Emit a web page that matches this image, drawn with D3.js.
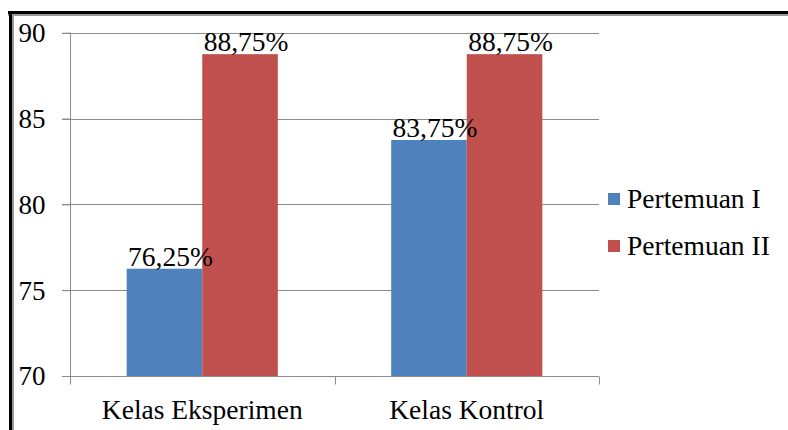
<!DOCTYPE html>
<html><head><meta charset="utf-8">
<script src="https://cdn.jsdelivr.net/npm/d3@7"></script>
<style>body{margin:0;background:#fff;}svg{display:block;} svg text{font-family:"Liberation Serif","Times New Roman",serif;}</style>
</head><body>
<svg id="c" width="788" height="430"></svg>
<script>
const categories = ["Kelas Eksperimen", "Kelas Kontrol"];
const seriesNames = ["Pertemuan I", "Pertemuan II"];
const pertemuanI = [76.25, 83.75];
const pertemuanII = [88.75, 88.75];
const valueLabelsI = ["76,25%", "83,75%"];
const valueLabelsII = ["88,75%", "88,75%"];
const yTicks = [70, 75, 80, 85, 90];
const colors = ["#4F81BD", "#C0504D"];

const svg = d3.select("#c");

// frame
svg.append("line").attr("x1",8).attr("x2",788).attr("y1",15).attr("y2",15).attr("stroke","#999").attr("stroke-width",2);
svg.append("line").attr("x1",13).attr("x2",13).attr("y1",11).attr("y2",430).attr("stroke","#999").attr("stroke-width",2);
svg.append("line").attr("x1",8).attr("x2",788).attr("y1",12.5).attr("y2",12.5).attr("stroke","#000").attr("stroke-width",3);
svg.append("line").attr("x1",10.5).attr("x2",10.5).attr("y1",11).attr("y2",430).attr("stroke","#000").attr("stroke-width",3);

const L = 70, R = 599, T = 32.7, B = 376;
const y = d3.scaleLinear().domain([70, 90]).range([B, T]);
const x0 = d3.scaleBand().domain(categories).range([L, R]).padding(0);
const x1 = d3.scaleBand().domain(seriesNames).range([0, x0.bandwidth()]).paddingInner(0).paddingOuter(0.75);

// gridlines
svg.append("g").selectAll("line").data(yTicks.filter(t => t > 70)).join("line")
  .attr("x1", L - 8).attr("x2", R).attr("y1", d => Math.round(y(d)) + 0.5).attr("y2", d => Math.round(y(d)) + 0.5)
  .attr("stroke", "#8c8c8c").attr("stroke-width", 1);

const data = categories.map((c, i) => ({c, vals: [pertemuanI[i], pertemuanII[i]], labs: [valueLabelsI[i], valueLabelsII[i]]}));

const g = svg.append("g").selectAll("g").data(data).join("g").attr("transform", d => `translate(${x0(d.c)},0)`);
g.selectAll("rect").data(d => d.vals.map((v, j) => ({v, s: seriesNames[j], j}))).join("rect")
  .attr("x", d => x1(d.s)).attr("width", x1.bandwidth())
  .attr("y", d => y(d.v)).attr("height", d => y(70) - y(d.v))
  .attr("fill", d => colors[d.j]);
g.selectAll("text").data(d => d.labs.map((l, j) => ({l, v: d.vals[j], s: seriesNames[j]}))).join("text")
  .attr("x", d => x1(d.s) + x1.bandwidth() / 2 + 6).attr("y", d => y(d.v) - 3)
  .attr("text-anchor", "middle").attr("font-size", 27.5).attr("fill", "#000")
  .text(d => d.l);

// y axis
const yAxis = svg.append("g").attr("transform", `translate(${L + 0.5},0)`)
  .call(d3.axisLeft(y).tickValues(yTicks).tickSize(8).tickPadding(17).tickFormat(d3.format("d")));
yAxis.attr("font-family", null);
yAxis.select(".domain").attr("stroke", "#8c8c8c").attr("d", `M0,${T}V${B}`);
yAxis.selectAll(".tick line").attr("stroke", "#8c8c8c");
yAxis.selectAll(".tick text").attr("font-size", 27).attr("fill", "#000").attr("dy", "0.33em");

// x axis
const xAxis = svg.append("g").attr("transform", `translate(0,${Math.round(B) + 0.5})`);
xAxis.append("line").attr("x1", L - 8).attr("x2", R).attr("y1", 0).attr("y2", 0).attr("stroke", "#8c8c8c");
xAxis.selectAll("line.t").data([L, x0(categories[1]), R]).join("line").attr("class","t")
  .attr("x1", d => Math.round(d) + 0.5).attr("x2", d => Math.round(d) + 0.5).attr("y1", 0).attr("y2", 8).attr("stroke", "#8c8c8c");
xAxis.selectAll("text").data(categories).join("text")
  .attr("x", d => x0(d) + x0.bandwidth() / 2).attr("y", 42)
  .attr("text-anchor", "middle").attr("font-size", 27.5).attr("fill", "#000").text(d => d);

// legend
const lg = svg.append("g").selectAll("g").data(seriesNames).join("g")
  .attr("transform", (d, i) => `translate(608,${193 + i * 47})`);
lg.append("rect").attr("width", 12).attr("height", 12).attr("fill", (d, i) => colors[i]);
lg.append("text").attr("x", 19).attr("y", 15).attr("font-size", 27.5).attr("fill", "#000").text(d => d);
</script>
</body></html>
